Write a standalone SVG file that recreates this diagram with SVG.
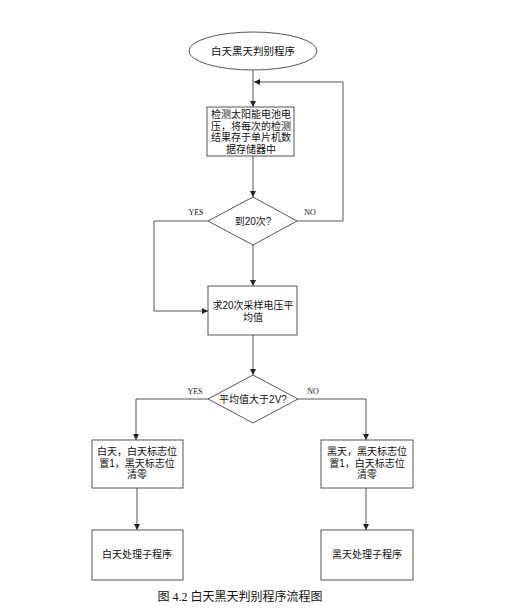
<svg xmlns="http://www.w3.org/2000/svg" width="511" height="614" viewBox="0 0 511 614">
<defs>
<marker id="arr" viewBox="0 0 10 10" refX="10" refY="5" markerWidth="6" markerHeight="6" markerUnits="userSpaceOnUse" orient="auto">
<path d="M0,0 L10,5 L0,10 z" fill="#222"/>
</marker>
</defs>
<style>
.n{fill:#fff;stroke:#555;stroke-width:1}
.c{fill:none;stroke:#555;stroke-width:1;marker-end:url(#arr)}
.l{fill:none;stroke:#555;stroke-width:1}
.t{font-family:"Liberation Sans","Noto Sans CJK SC",sans-serif;font-size:10px;fill:#111;text-anchor:middle}
.y{font-family:"Liberation Serif",serif;font-size:8px;fill:#111;text-anchor:middle}
.cap{font-family:"Liberation Serif","Noto Sans CJK SC",serif;font-size:12px;fill:#111;text-anchor:middle}
</style>
<rect width="511" height="614" fill="#fff"/>
<g id="connectors">
<path class="c" d="M253,70 V107"/>
<path class="c" d="M343,221 V82 H254"/>
<path class="c" d="M253,156 V197"/>
<path class="c" d="M253,245 V286"/>
<path class="c" d="M208,221 H154 V311 H208"/>
<path class="c" d="M253,335 V375"/>
<path class="c" d="M208,399 H136 V440"/>
<path class="c" d="M298,399 H366 V440"/>
<path class="c" d="M137,488 V530"/>
<path class="c" d="M366,488 V530"/>
<path class="l" d="M297,221 H343"/>
<text class="y" x="196" y="215">YES</text>
<text class="y" x="310" y="215">NO</text>
<text class="y" x="195" y="394">YES</text>
<text class="y" x="313" y="394">NO</text>
</g>
<g id="start">
<ellipse class="n" cx="253" cy="51" rx="64" ry="19"/>
<text class="t" x="253" y="55" style="font-size:10.5px">白天黑天判别程序</text>
</g>
<g id="measure">
<rect class="n" x="207" y="107" width="87" height="49"/>
<text class="t" x="251" y="118">检测太阳能电池电</text>
<text class="t" x="251" y="129.5">压，将每次的检测</text>
<text class="t" x="251" y="141">结果存于单片机数</text>
<text class="t" x="251" y="152.5">据存储器中</text>
</g>
<g id="check20">
<path class="n" d="M253,197 L297,221 L253,245 L208,221 z"/>
<text class="t" x="253" y="225">到20次?</text>
</g>
<g id="average">
<rect class="n" x="208" y="286" width="89" height="49"/>
<text class="t" x="253" y="309">求20次采样电压平</text>
<text class="t" x="253" y="321">均值</text>
</g>
<g id="check2v">
<path class="n" d="M253,375 L298,399 L253,423 L208,399 z"/>
<text class="t" x="253" y="403">平均值大于2V?</text>
</g>
<g id="day">
<rect class="n" x="92" y="440" width="91" height="48"/>
<text class="t" x="137" y="455">白天，白天标志位</text>
<text class="t" x="137" y="466.5">置1，黑天标志位</text>
<text class="t" x="137" y="478">清零</text>
</g>
<g id="night">
<rect class="n" x="321" y="440" width="92" height="48"/>
<text class="t" x="367" y="455">黑天，黑天标志位</text>
<text class="t" x="367" y="466.5">置1，白天标志位</text>
<text class="t" x="367" y="478">清零</text>
</g>
<g id="dayproc">
<rect class="n" x="92" y="530" width="91" height="50"/>
<text class="t" x="137" y="558">白天处理子程序</text>
</g>
<g id="nightproc">
<rect class="n" x="321" y="530" width="92" height="50"/>
<text class="t" x="367" y="558">黑天处理子程序</text>
</g>
<text class="cap" x="240" y="601">图 4.2  白天黑天判别程序流程图</text>
</svg>
